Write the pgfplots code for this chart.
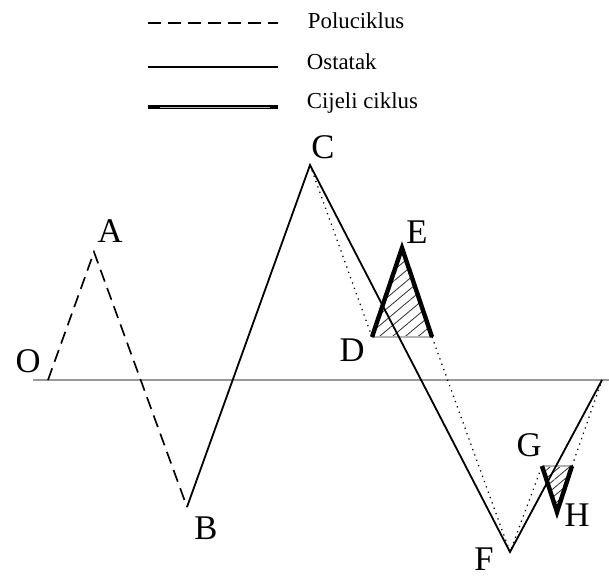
\documentclass[border=0pt]{standalone}
\usepackage{fontspec}
\setmainfont{Liberation Serif}
\usepackage{pgfplots}
\pgfplotsset{compat=1.18}
\usetikzlibrary{patterns.meta}

% pixel coordinates of the reference, y pointing down
\pgfplotstableread{
x y
48 380
94 252
187 507
}\halfcycle
\pgfplotstableread{
x y
187 507
310 165
510 552
602 380
}\residue
\pgfplotstableread{
x y
310 165
372 337
}\dottedA
\pgfplotstableread{
x y
432 337
510 552
542 466
}\dottedB
\pgfplotstableread{
x y
572 466
602 380
}\dottedC
\pgfplotstableread{
x y
372 337
402 248
432 337
}\cycleDE
\pgfplotstableread{
x y
542 466
557 512
572 466
}\cycleGH

\begin{document}
\begin{tikzpicture}
\begin{axis}[name=ax,width=6.09in,height=5.79in,scale only axis,hide axis,
  xmin=0,xmax=609,ymin=0,ymax=579,y dir=reverse,clip=false]
  % zero line
  \addplot[gray!80,line width=1.3pt] coordinates {(33,380)(609,380)};
  % hatched full cycles
  \addplot[draw=none,pattern={Lines[angle=40,distance=6pt,line width=0.6pt]},pattern color=black!80]
    table {\cycleDE} -- cycle;
  \addplot[draw=none,pattern={Lines[angle=40,distance=4.5pt,line width=0.6pt]},pattern color=black!80]
    table {\cycleGH} -- cycle;
  \addplot[gray!60,line width=1pt] coordinates {(372,337)(432,337)};
  \addplot[gray!60,line width=1pt] coordinates {(542,466)(572,466)};
  % original path (dotted)
  \addplot[black,line width=0.9pt,dash pattern=on 0.9pt off 3.2pt] table {\dottedA};
  \addplot[black,line width=0.9pt,dash pattern=on 0.9pt off 3.2pt] table {\dottedB};
  \addplot[black,line width=0.9pt,dash pattern=on 0.9pt off 3.2pt] table {\dottedC};
  % half cycles
  \addplot[black,line width=1.2pt,dash pattern=on 9pt off 5pt] table {\halfcycle};
  % residue
  \addplot[black,line width=1.3pt] table {\residue};
  % full cycles
  \addplot[black,line width=3.2pt,line join=miter] table {\cycleDE};
  \addplot[black,line width=3.2pt,line join=miter] table {\cycleGH};
  % legend
  \addplot[black,line width=1.4pt,dash pattern=on 9.5pt off 5pt] coordinates {(148,23)(278,23)};
  \addplot[black,line width=1.4pt] coordinates {(148,67)(278,67)};
  \addplot[black,line width=3.4pt] coordinates {(148,107)(278,107)};
  \addplot[gray!60,line width=0.7pt] coordinates {(160,107)(270,107)};
  \node[anchor=west,font=\fontsize{16.5}{18}\selectfont] at (303,21) {Poluciklus};
  \node[anchor=west,font=\fontsize{16.5}{18}\selectfont] at (302,62) {Ostatak};
  \node[anchor=west,font=\fontsize{16.5}{18}\selectfont] at (302,103) {Cijeli ciklus};
  % point labels
  \begin{scope}[every node/.style={font=\fontsize{25}{28}\selectfont,inner sep=0pt}]
    \node at (28,361) {O};
    \node at (110,231) {A};
    \node at (206,528) {B};
    \node at (323,147) {C};
    \node at (352,350) {D};
    \node at (417,232) {E};
    \node at (484,559) {F};
    \node at (529,445) {G};
    \node at (577,515) {H};
  \end{scope}
\end{axis}
\pgfresetboundingbox
\useasboundingbox (ax.south west) rectangle (ax.north east);
\end{tikzpicture}
\end{document}
